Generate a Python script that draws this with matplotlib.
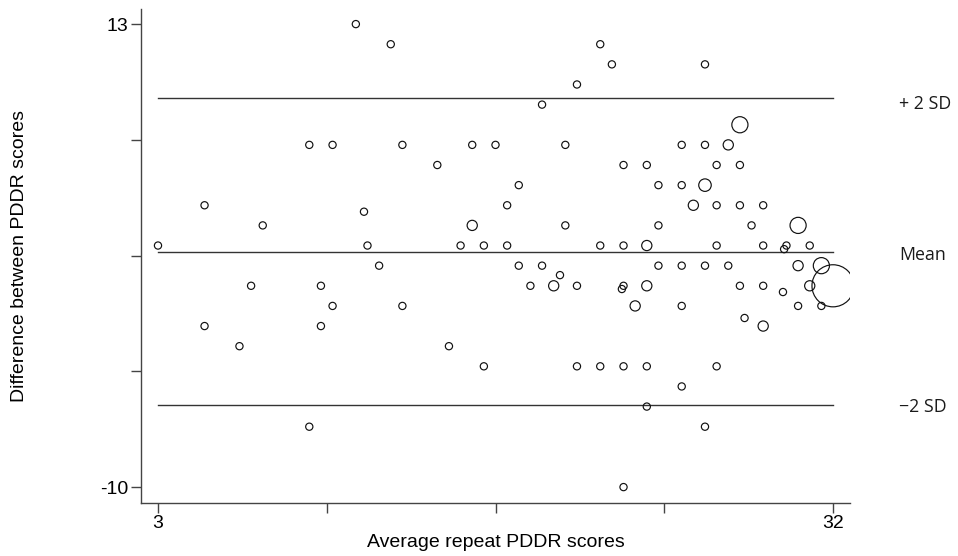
import numpy as np
import matplotlib
matplotlib.use("Agg")
import matplotlib.pyplot as plt

# average of the two PDDR scores (x) and their difference (y)
avg_scores = [
    11.5,
    13, 22,
    22.5, 26.5,
    21,
    19.5,
    28,
    9.5, 10.5, 13.5, 16.5, 17.5, 20.5, 25.5, 26.5, 27.5,
    15, 23, 24, 27, 28,
    18.5, 24.5, 25.5, 26.5,
    5, 18, 26, 27, 28, 29, 11.85,
    7.5, 16.5, 20.5, 24.5, 28.5, 30.5,
    3, 12, 16, 17, 18, 22, 23, 24, 27, 29, 30, 31, 29.9,
    12.5, 18.5, 19.5, 24.5, 25.5, 26.5, 27.5, 30.5, 31.5, 20.27,
    7, 10, 19, 20, 21, 23, 24, 28, 29, 31, 32, 22.93, 29.85,
    10.5, 13.5, 23.5, 25.5, 30.5, 31.5, 28.2,
    5, 10, 29,
    6.5, 15.5,
    17, 21, 22, 23, 24, 27,
    25.5,
    24,
    9.5, 26.5,
    23,
]
diff_scores = [
    13,
    12, 12,
    11, 11,
    10,
    9,
    8,
    7, 7, 7, 7, 7, 7, 7, 7, 7,
    6, 6, 6, 6, 6,
    5, 5, 5, 5,
    4, 4, 4, 4, 4, 4, 3.68,
    3, 3, 3, 3, 3, 3,
    2, 2, 2, 2, 2, 2, 2, 2, 2, 2, 2, 2, 1.82,
    1, 1, 1, 1, 1, 1, 1, 1, 1, 0.53,
    0, 0, 0, 0, 0, 0, 0, 0, 0, 0, 0, -0.16, -0.31,
    -1, -1, -1, -1, -1, -1, -1.6,
    -2, -2, -2,
    -3, -3,
    -4, -4, -4, -4, -4, -4,
    -5,
    -6,
    -7, -7,
    -10,
]
# number of subjects at each point (marker area)
counts = [
    1,
    1, 1,
    1, 1,
    1,
    1,
    5,
    1, 1, 1, 1, 1, 1, 1, 1, 2,
    1, 1, 1, 1, 1,
    1, 1, 1, 3,
    1, 1, 2, 1, 1, 1, 1,
    1, 2, 1, 1, 1, 5,
    1, 1, 1, 1, 1, 1, 1, 2, 1, 1, 1, 1, 1,
    1, 1, 1, 1, 1, 1, 1, 2, 5, 1,
    1, 1, 1, 2, 1, 1, 2, 1, 1, 2, 34, 1, 1,
    1, 1, 2, 1, 1, 1, 1,
    1, 1, 2,
    1, 1,
    1, 1, 1, 1, 1, 1,
    1,
    1,
    1, 1,
    1,
]

mean_diff = 1.69
sd_diff = 3.81

ref_labels = ["+ 2 SD", "Mean", "\u22122 SD"]

x_ticks = np.linspace(3, 32, 5)
y_ticks = np.linspace(-10, 13, 5)


def bland_altman():
    fig = plt.figure(figsize=(9.58, 5.56), dpi=100)
    ax = fig.add_axes([141 / 958, 53 / 556, 709 / 958, 494 / 556])

    sizes = 27 * np.array(counts)
    ax.scatter(avg_scores, diff_scores, s=sizes, facecolors="none",
               edgecolors="#111111", linewidths=0.85, zorder=3)

    # mean and limits of agreement
    levels = [mean_diff + 2 * sd_diff, mean_diff, mean_diff - 2 * sd_diff]
    offsets = [-0.28, -0.15, -0.1]
    for lev, lab, off in zip(levels, ref_labels, offsets):
        ax.plot([x_ticks[0], x_ticks[-1]], [lev, lev], color="#333333",
                linewidth=1.0, zorder=2)
        ax.text(34.85, lev + off, lab, va="center", ha="left", fontsize=12.8,
                family=["Open Sans", "DejaVu Sans"], color="#1a1a1a",
                clip_on=False)

    ax.set_xlim(2.27, 32.73)
    ax.set_ylim(-10.79, 13.75)

    ax.set_xticks(x_ticks)
    ax.set_xticklabels(["3", "", "", "", "32"])
    ax.set_yticks(y_ticks)
    ax.set_yticklabels(["-10", "", "", "", "13"])

    for side in ["top", "right"]:
        ax.spines[side].set_visible(False)
    for side in ["left", "bottom"]:
        ax.spines[side].set_color("#444444")
        ax.spines[side].set_linewidth(1.0)

    ax.tick_params(direction="out", length=7, width=1.0, color="#444444",
                   labelsize=14, pad=2)
    for lab in ax.get_xticklabels() + ax.get_yticklabels():
        lab.set_family("Liberation Sans")

    ax.set_xlabel("Average repeat PDDR scores", fontsize=14,
                  family="Liberation Sans", labelpad=1)
    ax.set_ylabel("Difference between PDDR scores", fontsize=14,
                  family="Liberation Sans")
    ax.yaxis.set_label_coords(-0.16, 0.5)

    fig.savefig("out.png", dpi=100)


if __name__ == "__main__":
    bland_altman()
